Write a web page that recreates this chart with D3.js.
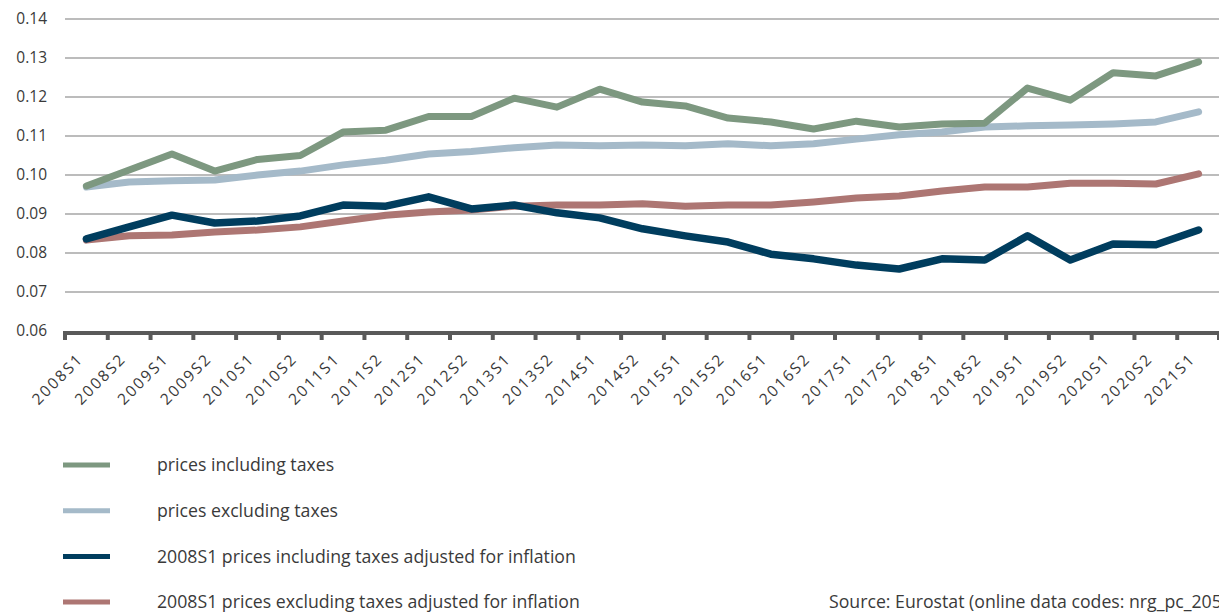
<!DOCTYPE html>
<html><head><meta charset="utf-8">
<script src="https://cdn.jsdelivr.net/npm/d3@7"></script>
<style>
html,body{margin:0;padding:0;background:#fff;overflow:hidden;}
svg{display:block;font-family:"Open Sans",sans-serif;}
</style></head>
<body><svg id="c" width="1219" height="613"></svg>
<script>
const categories = ["2008S1","2008S2","2009S1","2009S2","2010S1","2010S2","2011S1","2011S2","2012S1","2012S2","2013S1","2013S2","2014S1","2014S2","2015S1","2015S2","2016S1","2016S2","2017S1","2017S2","2018S1","2018S2","2019S1","2019S2","2020S1","2020S2","2021S1"];
const pricesInclTaxes = [0.0972,0.1013,0.1054,0.1010,0.1040,0.1050,0.1110,0.1115,0.1150,0.1150,0.1197,0.1174,0.1220,0.1187,0.1177,0.1146,0.1136,0.1118,0.1138,0.1123,0.1131,0.1133,0.1223,0.1192,0.1262,0.1254,0.1290];
const pricesExclTaxes = [0.0969,0.0982,0.0985,0.0987,0.1000,0.1010,0.1026,0.1038,0.1054,0.1060,0.1070,0.1077,0.1075,0.1077,0.1075,0.1080,0.1075,0.1080,0.1092,0.1103,0.1110,0.1123,0.1126,0.1128,0.1131,0.1136,0.1162];
const realInclTaxes = [0.0836,0.0867,0.0897,0.0877,0.0882,0.0895,0.0923,0.0920,0.0944,0.0913,0.0923,0.0903,0.0890,0.0862,0.0844,0.0828,0.0797,0.0785,0.0769,0.0759,0.0785,0.0782,0.0844,0.0782,0.0823,0.0821,0.0859];
const realExclTaxes = [0.0833,0.0844,0.0846,0.0854,0.0859,0.0867,0.0882,0.0897,0.0905,0.0910,0.0920,0.0923,0.0923,0.0926,0.0920,0.0923,0.0923,0.0931,0.0941,0.0946,0.0959,0.0969,0.0969,0.0979,0.0979,0.0977,0.1003];
const yTicks = [0.06,0.07,0.08,0.09,0.10,0.11,0.12,0.13,0.14];
const seriesNames = ["prices including taxes","prices excluding taxes","2008S1 prices including taxes adjusted for inflation","2008S1 prices excluding taxes adjusted for inflation"];
const seriesColors = ["#7d9880","#a5bac9","#003d5e","#ad7673"];
const sourceText = "Source: Eurostat (online data codes: nrg_pc_205 and prc_hicp_aind)";

const seriesData = [pricesInclTaxes, pricesExclTaxes, realInclTaxes, realExclTaxes];

const svg = d3.select("#c");
const mLeft = 65, mRight = 1220, mTop = 19, mBottom = 331;
const x = d3.scaleBand().domain(categories).range([mLeft, mRight]);
const y = d3.scaleLinear().domain([0.06, 0.14]).range([mBottom, mTop]);

// gridlines
svg.append("g").selectAll("line").data(yTicks.filter(t => t > 0.06)).join("line")
  .attr("x1", mLeft).attr("x2", 1219)
  .attr("y1", d => y(d)).attr("y2", d => y(d))
  .attr("stroke", "#bcbcbc").attr("stroke-width", 2);

// y labels
svg.append("g").selectAll("text").data(yTicks).join("text")
  .attr("x", 47).attr("y", d => y(d)).attr("dy", "0.35em")
  .attr("text-anchor", "end").attr("font-size", 15.5).attr("fill", "#3a3a3a")
  .text(d => d3.format(".2f")(d));

// lines
const line = d3.line().x((d, i) => x(categories[i]) + x.bandwidth() / 2).y(d => y(d));
const order = [1, 0, 3, 2];
order.forEach(k => {
  svg.append("path").datum(seriesData[k])
    .attr("d", line).attr("fill", "none")
    .attr("stroke", seriesColors[k]).attr("stroke-width", k === 2 ? 7.5 : 7)
    .attr("stroke-linejoin", "round").attr("stroke-linecap", "round");
});

// x axis
const xAxis = d3.axisBottom(x).tickSize(0).tickFormat(d => d);
const gx = svg.append("g").attr("transform", `translate(0,${mBottom})`).call(xAxis);
gx.select(".domain").remove();
gx.selectAll("text")
  .attr("font-size", 15.5).attr("font-family", "Open Sans, sans-serif").attr("fill", "#3a3a3a")
  .attr("letter-spacing", 2)
  .attr("text-anchor", "end")
  .attr("transform", `translate(-6,25) rotate(-45)`)
  .attr("dy", "0.35em").attr("y", 0).attr("x", 0);
svg.append("line").attr("x1", mLeft - 2).attr("x2", 1219).attr("y1", mBottom + 2).attr("y2", mBottom + 2)
  .attr("stroke", "#595959").attr("stroke-width", 4);
const bounds = categories.map(c => x(c)).concat([x.range()[1] - 1]);
svg.append("g").selectAll("line").data(bounds).join("line")
  .attr("x1", d => Math.max(d, mLeft)).attr("x2", d => Math.max(d, mLeft))
  .attr("y1", mBottom).attr("y2", mBottom + 9)
  .attr("stroke", "#595959").attr("stroke-width", 4);

// legend
const lg = svg.append("g").selectAll("g").data(seriesNames).join("g")
  .attr("transform", (d, i) => `translate(0,${465 + i * 45.7})`);
lg.append("line").attr("x1", 63).attr("x2", 110).attr("y1", 0).attr("y2", 0)
  .attr("stroke", (d, i) => seriesColors[i]).attr("stroke-width", 5);
lg.append("text").attr("x", 157).attr("y", 0).attr("dy", "0.35em")
  .attr("font-size", 17.7).attr("fill", "#3a3a3a").text(d => d);

svg.append("text").attr("x", 829).attr("y", 602).attr("dy", "0.35em")
  .attr("font-size", 17.7).attr("fill", "#3a3a3a").text(sourceText);
</script></body></html>
